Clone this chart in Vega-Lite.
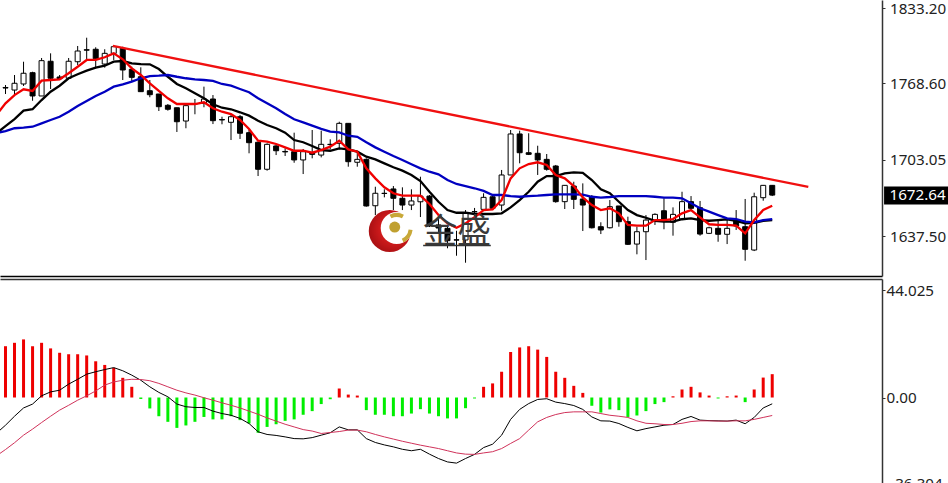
{"$schema":"https://vega.github.io/schema/vega-lite/v6.json","background":"#ffffff","padding":0,"autosize":"pad","spacing":3,"config":{"view":{"stroke":null},"axis":{"grid":false,"title":null,"labelFont":"Noto Sans","labelFontSize":15.2,"labelColor":"#222222","tickColor":"#333333","tickSize":3,"labelPadding":4.5,"domainColor":"#333333","domainWidth":1.5}},
"datasets":{"bars":[
{"i":-1,"r":1741.4,"k":1725.5,"b":1725.9,"macd":-14.7,"sig":-24},
{"i":0,"o":1765,"h":1767.1,"l":1759.4,"c":1764.5,"r":1751.4,"k":1731.9,"b":1727.6,"hist":21.1,"macd":-11.4,"sig":-21.4},
{"i":1,"o":1762.8,"h":1775.7,"l":1757.7,"c":1768.6,"r":1758.5,"k":1737.9,"b":1730,"hist":22.5,"macd":-7.7,"sig":-18.6},
{"i":2,"o":1768,"h":1787.1,"l":1766.3,"c":1777.2,"r":1763.4,"k":1745.1,"b":1730.5,"hist":23.9,"macd":-4.3,"sig":-15.5},
{"i":3,"o":1777.7,"h":1778.5,"l":1753.6,"c":1757.7,"r":1762,"k":1746.3,"b":1731.3,"hist":21.1,"macd":-2.7,"sig":-13},
{"i":4,"o":1757.7,"h":1790.3,"l":1757.7,"c":1788,"r":1770.8,"k":1754.2,"b":1734.2,"hist":22.5,"macd":0.7,"sig":-10.3},
{"i":5,"o":1787.5,"h":1794.3,"l":1763.7,"c":1772.9,"r":1771.4,"k":1761.4,"b":1737.1,"hist":20.2,"macd":2.3,"sig":-7.7},
{"i":6,"o":1774,"h":1775.7,"l":1771.4,"c":1772.5,"r":1772,"k":1766.5,"b":1739.9,"hist":18.4,"macd":3,"sig":-5.2},
{"i":7,"o":1772.9,"h":1790.3,"l":1772.3,"c":1787.5,"r":1777.2,"k":1772.9,"b":1744.2,"hist":17.8,"macd":5.5,"sig":-3.2},
{"i":8,"o":1787.1,"h":1800.6,"l":1784.3,"c":1796.3,"r":1782.8,"k":1776.3,"b":1749.1,"hist":17.8,"macd":7.5,"sig":-1.1},
{"i":9,"o":1797.4,"h":1807.7,"l":1788,"c":1797,"r":1788.6,"k":1779.4,"b":1753.4,"hist":17.3,"macd":9.6,"sig":0.7},
{"i":10,"o":1797.8,"h":1799.5,"l":1781.5,"c":1789.7,"r":1788.6,"k":1782,"b":1757.7,"hist":14.9,"macd":10.6,"sig":2.7},
{"i":11,"o":1785.1,"h":1797.8,"l":1782,"c":1794.3,"r":1790.9,"k":1783.7,"b":1761.4,"hist":13.4,"macd":11.5,"sig":5.1},
{"i":12,"o":1794.3,"h":1801.4,"l":1788.6,"c":1800,"r":1794.3,"k":1787.1,"b":1765.7,"hist":12.2,"macd":12.3,"sig":6.4},
{"i":13,"o":1798.6,"h":1800,"l":1771.4,"c":1780,"r":1789.2,"k":1787.7,"b":1767.7,"hist":8.1,"macd":11,"sig":7.1},
{"i":14,"o":1780.6,"h":1782.8,"l":1770,"c":1773.7,"r":1781.4,"k":1785.7,"b":1770,"hist":4.4,"macd":9.2,"sig":7.5},
{"i":15,"o":1774.2,"h":1782.3,"l":1761.1,"c":1761.4,"r":1775.7,"k":1785.1,"b":1772.9,"hist":-0.6,"macd":7.1,"sig":7.4},
{"i":16,"o":1762.2,"h":1771.4,"l":1756.6,"c":1758.8,"r":1768.6,"k":1784.9,"b":1774.8,"hist":-4.5,"macd":4.4,"sig":6.9},
{"i":17,"o":1759.4,"h":1759.4,"l":1744.8,"c":1748.5,"r":1762,"k":1780.8,"b":1775.1,"hist":-7.7,"macd":2.1,"sig":5.8},
{"i":18,"o":1749.7,"h":1750.8,"l":1745.1,"c":1746.3,"r":1755.7,"k":1774.2,"b":1775.7,"hist":-10,"macd":0.3,"sig":4.4},
{"i":19,"o":1747.6,"h":1747.6,"l":1726.8,"c":1735.6,"r":1750.8,"k":1768,"b":1774.2,"hist":-12.5,"macd":-2.7,"sig":3},
{"i":20,"o":1736.2,"h":1751.4,"l":1730,"c":1749.4,"r":1750.8,"k":1764.3,"b":1772.9,"hist":-11.5,"macd":-3.8,"sig":1.9},
{"i":21,"o":1751.2,"h":1755.1,"l":1742,"c":1750.8,"r":1750.8,"k":1760,"b":1772,"hist":-10,"macd":-4.1,"sig":1},
{"i":22,"o":1751.4,"h":1765.7,"l":1748,"c":1755.1,"r":1752.3,"k":1755.7,"b":1771.4,"hist":-8,"macd":-4.1,"sig":-0.1},
{"i":23,"o":1755.1,"h":1758.5,"l":1733.6,"c":1736.5,"r":1747.1,"k":1750.6,"b":1770.6,"hist":-9,"macd":-5.6,"sig":-1.1},
{"i":24,"o":1737.5,"h":1739.9,"l":1733.4,"c":1737.1,"r":1744.2,"k":1747.6,"b":1768,"hist":-9,"macd":-6.6,"sig":-2.2},
{"i":25,"o":1735.1,"h":1742,"l":1719.9,"c":1739.9,"r":1742.2,"k":1746.3,"b":1766.5,"hist":-7.7,"macd":-7.3,"sig":-3.2},
{"i":26,"o":1739.9,"h":1741.4,"l":1720.8,"c":1725.7,"r":1737.1,"k":1743.7,"b":1763.7,"hist":-9.3,"macd":-8.6,"sig":-4.3},
{"i":27,"o":1726.2,"h":1728.5,"l":1708.5,"c":1717.6,"r":1729.4,"k":1740.8,"b":1760.9,"hist":-10.7,"macd":-10.7,"sig":-5.6},
{"i":28,"o":1718,"h":1718.5,"l":1689,"c":1694.8,"r":1719.3,"k":1736.5,"b":1755.7,"hist":-14.5,"macd":-14.1,"sig":-6.9},
{"i":29,"o":1694.8,"h":1717.1,"l":1693.6,"c":1716.2,"r":1718.5,"k":1732.8,"b":1751.4,"hist":-12.1,"macd":-15.2,"sig":-8.4},
{"i":30,"o":1714.8,"h":1715.6,"l":1707,"c":1710.7,"r":1716.5,"k":1730,"b":1747.1,"hist":-11,"macd":-15.6,"sig":-9.7},
{"i":31,"o":1710.1,"h":1712.8,"l":1706.2,"c":1709.7,"r":1713.6,"k":1726.2,"b":1742.2,"hist":-9.6,"macd":-16.2,"sig":-11},
{"i":32,"o":1709.9,"h":1726.2,"l":1700.4,"c":1702.8,"r":1710.7,"k":1719.9,"b":1737.7,"hist":-9,"macd":-16.9,"sig":-12.1},
{"i":33,"o":1702.8,"h":1712.2,"l":1690.7,"c":1709.9,"r":1710.7,"k":1718,"b":1735.1,"hist":-7.1,"macd":-17,"sig":-13.2},
{"i":34,"o":1709,"h":1728.5,"l":1704.2,"c":1707.6,"r":1709,"k":1714.8,"b":1732.2,"hist":-5.6,"macd":-16.5,"sig":-13.8},
{"i":35,"o":1707,"h":1727.9,"l":1705,"c":1716.2,"r":1711.3,"k":1711.3,"b":1729.4,"hist":-2.7,"macd":-15.5,"sig":-14.8},
{"i":36,"o":1716.2,"h":1720.5,"l":1711.9,"c":1716,"r":1714.2,"k":1710.7,"b":1727.1,"hist":-0.7,"macd":-14.5,"sig":-14.4},
{"i":37,"o":1717.1,"h":1735.6,"l":1711.9,"c":1734.2,"r":1719.3,"k":1712.8,"b":1726.5,"hist":3.7,"macd":-12.1,"sig":-14},
{"i":38,"o":1734.2,"h":1734.2,"l":1697,"c":1701.3,"r":1711.9,"k":1711.9,"b":1723.6,"hist":1.2,"macd":-13.3,"sig":-13.4},
{"i":39,"o":1700.8,"h":1709.9,"l":1697,"c":1703.3,"r":1709.9,"k":1709.9,"b":1722.7,"hist":0.8,"macd":-13.3,"sig":-13.4},
{"i":40,"o":1703.3,"h":1704.2,"l":1662.7,"c":1663.3,"r":1695.6,"k":1705.6,"b":1718,"hist":-5.2,"macd":-16.9,"sig":-14.1},
{"i":41,"o":1663.5,"h":1679.8,"l":1655.5,"c":1674.2,"r":1687,"k":1703.3,"b":1713.6,"hist":-7.1,"macd":-18.5,"sig":-15.2},
{"i":42,"o":1674.2,"h":1677.6,"l":1670.7,"c":1674,"r":1679.3,"k":1699.9,"b":1709.9,"hist":-7.1,"macd":-19.5,"sig":-16.2},
{"i":43,"o":1677.9,"h":1680.4,"l":1659.8,"c":1669.9,"r":1674.2,"k":1696.5,"b":1706.2,"hist":-7.7,"macd":-20.3,"sig":-17.1},
{"i":44,"o":1669.9,"h":1679.3,"l":1659.8,"c":1664.1,"r":1672.1,"k":1693.6,"b":1702.8,"hist":-7.7,"macd":-21.3,"sig":-18},
{"i":45,"o":1664.1,"h":1677.6,"l":1659.8,"c":1667.6,"r":1672.1,"k":1689.9,"b":1699.1,"hist":-6.6,"macd":-21.9,"sig":-18.8},
{"i":46,"o":1666.9,"h":1688.4,"l":1653.8,"c":1671.8,"r":1672.1,"k":1684.7,"b":1695.6,"hist":-4.8,"macd":-21.3,"sig":-19.6},
{"i":47,"o":1671.8,"h":1672.7,"l":1645.2,"c":1646.1,"r":1665,"k":1675.5,"b":1692.7,"hist":-6.6,"macd":-23.3,"sig":-20.3},
{"i":48,"o":1647,"h":1653,"l":1641,"c":1644.4,"r":1655.5,"k":1666.9,"b":1690.5,"hist":-7.7,"macd":-25.1,"sig":-21},
{"i":49,"o":1644.1,"h":1647,"l":1627,"c":1633.5,"r":1648.4,"k":1659.8,"b":1685.6,"hist":-8.6,"macd":-26.5,"sig":-21.9},
{"i":50,"o":1634.3,"h":1642,"l":1620.6,"c":1634,"r":1644.6,"k":1657.5,"b":1682.2,"hist":-8.6,"macd":-27,"sig":-22.8},
{"i":51,"o":1634.1,"h":1659.8,"l":1614.6,"c":1657,"r":1648.4,"k":1657.5,"b":1680.4,"hist":-4.4,"macd":-25.1,"sig":-23.3},
{"i":52,"o":1658.5,"h":1661.6,"l":1651.2,"c":1658.3,"r":1653.6,"k":1656.4,"b":1678.5,"hist":-0.4,"macd":-23.4,"sig":-23.4},
{"i":53,"o":1660.4,"h":1674.2,"l":1659.8,"c":1670.7,"r":1659.8,"k":1656.4,"b":1676.2,"hist":4.4,"macd":-20.6,"sig":-22.8},
{"i":54,"o":1671.2,"h":1672.7,"l":1660.7,"c":1661.3,"r":1660.4,"k":1656.4,"b":1672.7,"hist":5.8,"macd":-19.2,"sig":-22.3},
{"i":55,"o":1664.1,"h":1694.2,"l":1659.2,"c":1689.9,"r":1668.4,"k":1657,"b":1672.7,"hist":10.6,"macd":-15.5,"sig":-21},
{"i":56,"o":1689.9,"h":1728.5,"l":1689.9,"c":1725.1,"r":1687,"k":1662.1,"b":1671.8,"hist":18.7,"macd":-9,"sig":-18.9},
{"i":57,"o":1725.1,"h":1727.9,"l":1699.9,"c":1709,"r":1695.6,"k":1668.4,"b":1671.2,"hist":20.6,"macd":-4.9,"sig":-16.9},
{"i":58,"o":1709,"h":1725.7,"l":1707,"c":1707.6,"r":1699.3,"k":1675.5,"b":1671.8,"hist":21.1,"macd":-2.5,"sig":-13.4},
{"i":59,"o":1708.5,"h":1715,"l":1689.9,"c":1702.8,"r":1700.8,"k":1684.1,"b":1672.1,"hist":19.7,"macd":-0.8,"sig":-10},
{"i":60,"o":1703.3,"h":1707.9,"l":1693.6,"c":1694.8,"r":1698.5,"k":1689,"b":1672.7,"hist":16.7,"macd":-0.5,"sig":-8.2},
{"i":61,"o":1697.6,"h":1698.5,"l":1666.1,"c":1667,"r":1689.9,"k":1689,"b":1673.3,"hist":10.6,"macd":-1.9,"sig":-7},
{"i":62,"o":1667,"h":1681.3,"l":1660.7,"c":1681,"r":1687,"k":1691.3,"b":1673.3,"hist":8.1,"macd":-2.5,"sig":-6.2},
{"i":63,"o":1680.4,"h":1684.1,"l":1660.7,"c":1669,"r":1680.4,"k":1692.2,"b":1673.3,"hist":4.8,"macd":-3.3,"sig":-5.9},
{"i":64,"o":1669.3,"h":1682.7,"l":1641.8,"c":1664.1,"r":1670.7,"k":1691.8,"b":1673,"hist":1.9,"macd":-4.9,"sig":-5.9},
{"i":65,"o":1671.2,"h":1672.7,"l":1644,"c":1644.6,"r":1664.1,"k":1685.6,"b":1671.2,"hist":-3.4,"macd":-8,"sig":-5.9},
{"i":66,"o":1645.5,"h":1649.3,"l":1639.2,"c":1642.7,"r":1659.8,"k":1677.6,"b":1670.4,"hist":-6.2,"macd":-9.6,"sig":-6.6},
{"i":67,"o":1644.6,"h":1668.4,"l":1644,"c":1662.7,"r":1661.3,"k":1674.2,"b":1671,"hist":-4.9,"macd":-9.7,"sig":-7.3},
{"i":68,"o":1663.3,"h":1663.3,"l":1645.5,"c":1649.8,"r":1657,"k":1666.9,"b":1671.8,"hist":-5.2,"macd":-10.7,"sig":-7.7},
{"i":69,"o":1649.8,"h":1654.1,"l":1629.8,"c":1630.4,"r":1647,"k":1659.8,"b":1671.8,"hist":-8,"macd":-12.3,"sig":-8.2},
{"i":70,"o":1630.6,"h":1645.5,"l":1621.8,"c":1641.2,"r":1646.4,"k":1655.5,"b":1671.8,"hist":-7.4,"macd":-13.7,"sig":-9.6},
{"i":71,"o":1641.2,"h":1655.5,"l":1616.9,"c":1651.2,"r":1646.4,"k":1653.2,"b":1671.8,"hist":-5.6,"macd":-12.8,"sig":-10.6},
{"i":72,"o":1650.6,"h":1657,"l":1647,"c":1656.1,"r":1651.2,"k":1650.6,"b":1671.2,"hist":-2.7,"macd":-12.1,"sig":-10.8},
{"i":73,"o":1659.2,"h":1669.9,"l":1643.3,"c":1651.2,"r":1651.2,"k":1649.8,"b":1670.4,"hist":-1.9,"macd":-11.4,"sig":-11.1},
{"i":74,"o":1649.3,"h":1662.1,"l":1637.8,"c":1656.1,"r":1652.1,"k":1649.8,"b":1670.4,"hist":0.5,"macd":-11.1,"sig":-11.1},
{"i":75,"o":1652.1,"h":1675.5,"l":1651.2,"c":1667,"r":1657,"k":1651.9,"b":1669.9,"hist":3.3,"macd":-9,"sig":-10.6},
{"i":76,"o":1667,"h":1671.8,"l":1659.8,"c":1661.3,"r":1659.8,"k":1652.7,"b":1665.6,"hist":4.4,"macd":-7.8,"sig":-9.9},
{"i":77,"o":1661.8,"h":1667.6,"l":1637.8,"c":1639.2,"r":1653.6,"k":1651.2,"b":1661.3,"hist":2.1,"macd":-9.3,"sig":-9.6},
{"i":78,"o":1639.8,"h":1645.5,"l":1639.2,"c":1644.6,"r":1647.6,"k":1650.6,"b":1658.4,"hist":0.8,"macd":-9.5,"sig":-9.6},
{"i":79,"o":1644.1,"h":1650.6,"l":1632.6,"c":1639,"r":1647,"k":1651.2,"b":1655.5,"hist":-0.4,"macd":-9.6,"sig":-9.7},
{"i":80,"o":1639,"h":1651.2,"l":1630.6,"c":1644.1,"r":1647,"k":1651.9,"b":1652.7,"hist":0.5,"macd":-9.7,"sig":-9.7},
{"i":81,"o":1651.2,"h":1659.8,"l":1642.7,"c":1646.1,"r":1646.4,"k":1650.6,"b":1652.1,"hist":0.8,"macd":-9.3,"sig":-9.6},
{"i":82,"o":1645.5,"h":1669.3,"l":1616.3,"c":1626.1,"r":1639.8,"k":1648.4,"b":1649.8,"hist":-1.9,"macd":-10.8,"sig":-9.6},
{"i":83,"o":1625.5,"h":1674.7,"l":1624.6,"c":1671.2,"r":1651.2,"k":1648.9,"b":1649.3,"hist":3.3,"macd":-8.2,"sig":-9},
{"i":84,"o":1670.4,"h":1681.3,"l":1667.8,"c":1681,"r":1659.8,"k":1650.6,"b":1651.2,"hist":8.2,"macd":-4.3,"sig":-8.2},
{"i":85,"o":1681,"h":1681.3,"l":1671.8,"c":1672.64,"r":1663.5,"k":1651.2,"b":1652.1,"hist":9.6,"macd":-2.6,"sig":-7.4}
]},
"vconcat":[
{"width":882,"height":276,
"encoding":{"x":{"field":"i","type":"quantitative","scale":{"domain":[-0.61,97.17],"nice":false,"zero":false,"padding":0},"axis":{"orient":"bottom","labels":false,"ticks":false,"domain":true,"domainColor":"#000000"}}},
"layer":[
{"mark":{"type":"rule","color":"#c4c4c4","strokeWidth":1},"encoding":{"x":{},"y":{"datum":1672.64,"type":"quantitative","scale":{"domain":[1603.2,1840.07],"nice":false,"zero":false},"axis":{"orient":"right","values":[1833.2,1768.6,1703.05,1637.5],"format":".2f"}}}},
{"data":{"name":"bars"},"mark":{"type":"rule","color":"#000000","strokeWidth":1},"encoding":{"y":{"field":"l","type":"quantitative"},"y2":{"field":"h"}}},
{"data":{"name":"bars"},"mark":{"type":"bar","size":5,"stroke":"#000000","strokeWidth":1,"orient":"vertical"},"encoding":{"y":{"field":"o","type":"quantitative"},"y2":{"field":"c"},"fill":{"condition":{"test":"datum.c>=datum.o","value":"#ffffff"},"value":"#000000"}}},
{"data":{"name":"bars"},"mark":{"type":"line","color":"#000000","strokeWidth":2.3,"clip":true},"encoding":{"y":{"field":"k","type":"quantitative"}}},
{"data":{"name":"bars"},"mark":{"type":"line","color":"#0000c0","strokeWidth":2.3,"clip":true},"encoding":{"y":{"field":"b","type":"quantitative"}}},
{"data":{"name":"bars"},"mark":{"type":"line","color":"#f00000","strokeWidth":2.3,"clip":true},"encoding":{"y":{"field":"r","type":"quantitative"}}},
{"data":{"values":[{"i":11.9,"p":1800.6},{"i":89,"p":1679.6}]},"mark":{"type":"line","color":"#f01010","strokeWidth":2.3},"encoding":{"y":{"field":"p","type":"quantitative"}}},
{"data":{"values":[{"i":42.6,"p":1641.8}]},"mark":{"type":"point","filled":true,"opacity":1,"size":1764,"color":{"gradient":"radial","x1":0.6,"y1":0.45,"x2":0.6,"y2":0.45,"r1":0.2,"r2":0.7,"stops":[{"offset":0,"color":"#e02020"},{"offset":1,"color":"#9c0c10"}]}},"encoding":{"y":{"field":"p","type":"quantitative"}}},
{"data":{"values":[{"i":43.37,"p":1644.4}]},"mark":{"type":"point","filled":true,"opacity":1,"size":1024,"color":"#ffffff"},"encoding":{"y":{"field":"p","type":"quantitative"}}},
{"data":{"values":[{"i":43.37,"p":1644.4}]},"mark":{"type":"arc","radius":15,"radius2":11,"theta":-0.5,"theta2":0.5,"color":"#c8a838"},"encoding":{"y":{"field":"p","type":"quantitative"}}},
{"data":{"values":[{"i":43.37,"p":1644.4}]},"mark":{"type":"arc","radius":16,"radius2":12,"theta":1.7,"theta2":2.7,"color":"#c8a838"},"encoding":{"y":{"field":"p","type":"quantitative"}}},
{"data":{"values":[{"i":43.15,"p":1645.2}]},"mark":{"type":"point","filled":true,"opacity":1,"size":121,"color":"#c0a030"},"encoding":{"y":{"field":"p","type":"quantitative"}}},
{"data":{"values":[{"i":50.06,"p":1640.1,"t":"金盛"}]},"mark":{"type":"text","font":"Noto Sans CJK SC","fontSize":34,"color":"#3a3a3a","align":"center","baseline":"middle"},"encoding":{"y":{"field":"p","type":"quantitative"},"text":{"field":"t"}}},
{"data":{"values":[{"i":46.3,"i2":53.8,"p":1629.4}]},"mark":{"type":"rule","color":"#333333","strokeWidth":1.5},"encoding":{"x2":{"field":"i2"},"y":{"field":"p","type":"quantitative"}}},
{"data":{"values":[{"i":97.4,"i2":104.5,"p":1680,"p2":1664.6}]},"mark":{"type":"rect","color":"#000000"},"encoding":{"x2":{"field":"i2"},"y":{"field":"p","type":"quantitative"},"y2":{"field":"p2"}}},
{"data":{"values":[{"i":98,"p":1672.3,"t":"1672.64"}]},"mark":{"type":"text","font":"Noto Sans","fontSize":15.2,"color":"#ffffff","align":"left","baseline":"middle"},"encoding":{"y":{"field":"p","type":"quantitative"},"text":{"field":"t"}}}
]},
{"width":882,"height":211,"data":{"name":"bars"},
"encoding":{"x":{"field":"i","type":"quantitative","scale":{"domain":[-0.61,97.17],"nice":false,"zero":false,"padding":0},"axis":{"orient":"top","labels":false,"ticks":false,"domain":true,"domainColor":"#333333"}}},
"layer":[
{"mark":{"type":"bar","size":3,"orient":"vertical"},"encoding":{"y":{"field":"hist","type":"quantitative","scale":{"domain":[-38.05,48.75],"nice":false,"zero":false},"axis":{"orient":"right","values":[44.025,0,-36.304],"labelPadding":1,"labelOffset":{"condition":{"test":"datum.value<-30","value":-2},"value":0},"labelExpr":"datum.value==0?'0.00':format(datum.value,'.3f')"}},"y2":{"datum":0},"color":{"condition":{"test":"datum.hist>=0","value":"#ee0000"},"value":"#00ee00"}}},
{"mark":{"type":"line","color":"#000000","strokeWidth":1,"clip":true},"encoding":{"y":{"field":"macd","type":"quantitative"}}},
{"mark":{"type":"line","color":"#d0325a","strokeWidth":1,"clip":true},"encoding":{"y":{"field":"sig","type":"quantitative"}}}
]}
]}
